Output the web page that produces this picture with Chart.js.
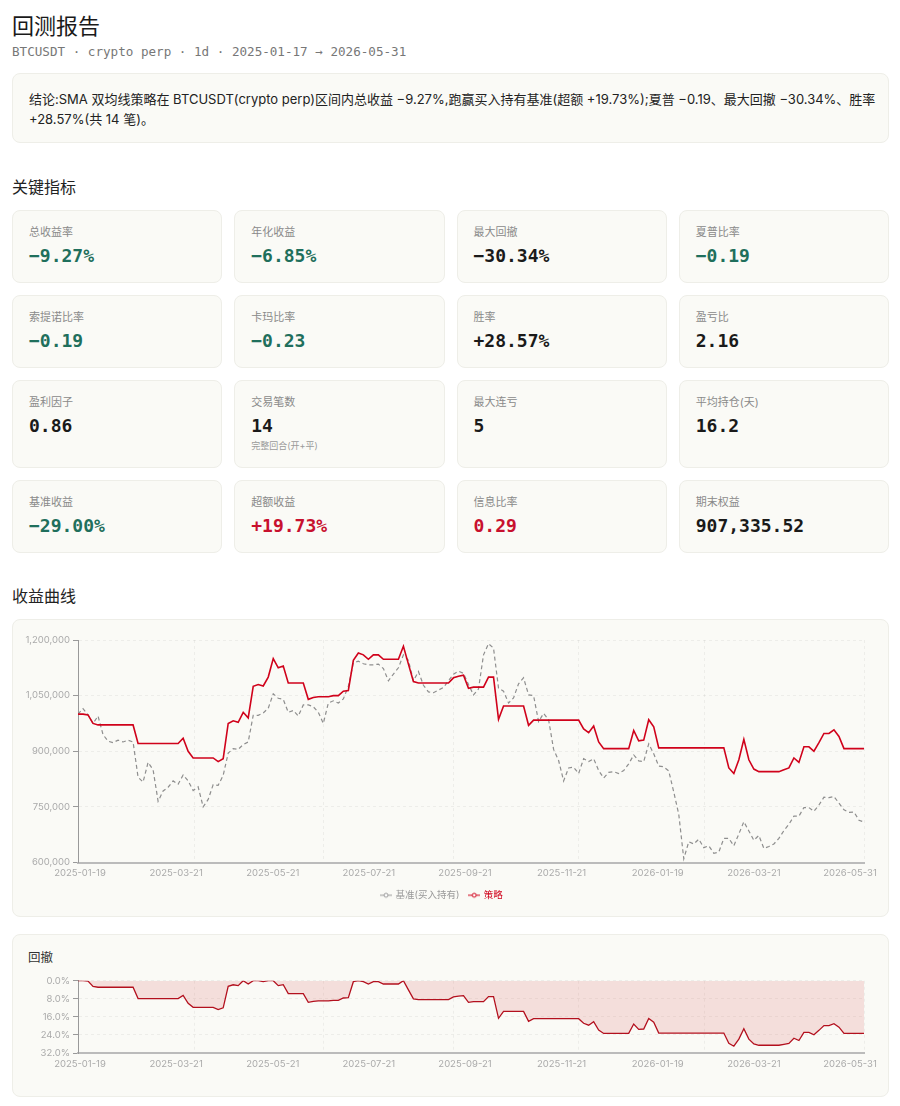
<!DOCTYPE html>
<html lang="zh-CN">
<head>
<meta charset="utf-8">
<title>回测报告</title>
<script src="https://cdn.jsdelivr.net/npm/chart.js@4.4.1/dist/chart.umd.min.js"></script>
<style>
  html, body { margin: 0; padding: 0; background: #fff; }
  body { width: 900px; height: 1106px; position: relative; overflow: hidden;
         font-family: Inter, "Noto Sans CJK SC", sans-serif; color: #1a1a1a; }
  .abs { position: absolute; }
  .card { position: absolute; background: #fafaf6; border: 1px solid #eeeee8; border-radius: 8px; box-sizing: border-box; }
  h1 { position: absolute; left: 12px; top: 9px; margin: 0; font: 400 22px/30px "Noto Sans CJK SC", sans-serif; color: #1a1a1a; }
  h2 { position: absolute; left: 12px; margin: 0; font: 400 16px/22px "Noto Sans CJK SC", sans-serif; color: #222; }
  .sub { left: 12px; top: 43px; font: 12.6px/18px "DejaVu Sans Mono", monospace; color: #777; }
  .concl { left: 12px; top: 73px; width: 877px; height: 70px; padding: 15px 16px; font-size: 13px; line-height: 20px; color: #222; white-space: nowrap; }
  .grid { position: absolute; left: 12px; top: 210px; width: 877px; display: grid;
          grid-template-columns: repeat(4, 1fr); grid-template-rows: 73px 73px 88px 73px; gap: 12px; }
  .m { position: relative; background: #fafaf6; border: 1px solid #eeeee8; border-radius: 8px; box-sizing: border-box; padding: 14px 16px 0; }
  .m .l { font-size: 11px; line-height: 14px; color: #8a8a8a; }
  .m .v { margin-top: 7px; font: 700 18px/20px "DejaVu Sans Mono", monospace; color: #1a1a1a; }
  .m .n { margin-top: 4px; font-size: 9px; line-height: 12px; color: #9a9a9a; }
  .g { color: #1f6f5c !important; }
  .r { color: #c8102e !important; }
  .ddt { left: 28px; top: 949px; font: 400 12.5px/16px "Noto Sans CJK SC", sans-serif; color: #333; }
</style>
</head>
<body>
<h1>回测报告</h1>
<div class="abs sub">BTCUSDT · crypto perp · 1d · 2025-01-17 → 2026-05-31</div>
<div class="card concl">结论:SMA 双均线策略在 BTCUSDT(crypto perp)区间内总收益 −9.27%,跑赢买入持有基准(超额 +19.73%);夏普 −0.19、最大回撤 −30.34%、胜率<br>+28.57%(共 14 笔)。</div>

<h2 style="top:175px">关键指标</h2>
<div class="grid">
  <div class="m"><div class="l">总收益率</div><div class="v g">−9.27%</div></div>
  <div class="m"><div class="l">年化收益</div><div class="v g">−6.85%</div></div>
  <div class="m"><div class="l">最大回撤</div><div class="v">−30.34%</div></div>
  <div class="m"><div class="l">夏普比率</div><div class="v g">−0.19</div></div>
  <div class="m"><div class="l">索提诺比率</div><div class="v g">−0.19</div></div>
  <div class="m"><div class="l">卡玛比率</div><div class="v g">−0.23</div></div>
  <div class="m"><div class="l">胜率</div><div class="v">+28.57%</div></div>
  <div class="m"><div class="l">盈亏比</div><div class="v">2.16</div></div>
  <div class="m"><div class="l">盈利因子</div><div class="v">0.86</div></div>
  <div class="m"><div class="l">交易笔数</div><div class="v">14</div><div class="n">完整回合(开+平)</div></div>
  <div class="m"><div class="l">最大连亏</div><div class="v">5</div></div>
  <div class="m"><div class="l">平均持仓(天)</div><div class="v">16.2</div></div>
  <div class="m"><div class="l">基准收益</div><div class="v g">−29.00%</div></div>
  <div class="m"><div class="l">超额收益</div><div class="v r">+19.73%</div></div>
  <div class="m"><div class="l">信息比率</div><div class="v r">0.29</div></div>
  <div class="m"><div class="l">期末权益</div><div class="v">907,335.52</div></div>
</div>

<h2 style="top:584px">收益曲线</h2>
<div class="card" style="left:12px;top:619px;width:877px;height:298px"></div>
<div class="abs" style="left:20px;top:628px;width:860px;height:282px"><canvas id="equity"></canvas></div>

<div class="card" style="left:12px;top:934px;width:877px;height:163px"></div>
<div class="abs ddt">回撤</div>
<div class="abs" style="left:20px;top:972px;width:860px;height:98px"><canvas id="dd"></canvas></div>

<script>
// 权益曲线(单位:千),按等间隔采样读取
var strategyK = [
  1000, 1000, 998, 975, 971, 971, 971, 971, 971, 971,
  971, 971, 921, 921, 921, 921, 921, 921, 921, 921,
  921, 935, 900, 882, 882, 882, 882, 882, 872, 880,
  975, 982, 978, 1005, 990, 1075, 1080, 1076, 1100, 1150,
  1125, 1130, 1084, 1084, 1084, 1084, 1040, 1045, 1047, 1047,
  1047, 1050, 1050, 1062, 1064, 1145, 1165, 1160, 1148, 1160,
  1160, 1148, 1148, 1148, 1148, 1183, 1135, 1088, 1084, 1084,
  1084, 1084, 1084, 1084, 1084, 1098, 1102, 1105, 1070, 1073,
  1073, 1073, 1100, 1100, 986, 1022, 1022, 1022, 1022, 1022,
  970, 984, 984, 984, 984, 984, 984, 984, 984, 984,
  984, 960, 950, 968, 925, 907, 907, 907, 907, 907,
  907, 956, 928, 930, 985, 966, 909, 909, 909, 909,
  909, 909, 909, 909, 909, 909, 909, 909, 909, 909,
  855, 840, 877, 932, 877, 852, 845, 845, 845, 845,
  845, 850, 855, 882, 870, 912, 912, 900, 923, 948,
  948, 958, 940, 907, 907, 907, 907, 907
];
var benchmarkK = [
  1000, 1015, 998, 975, 995, 945, 927, 923, 930, 925,
  930, 925, 830, 817, 870, 850, 765, 793, 803, 820,
  811, 836, 820, 794, 804, 750, 770, 810, 808, 835,
  895, 907, 905, 918, 925, 997, 997, 1003, 1016, 1055,
  1043, 1040, 1005, 1010, 995, 1025, 1025, 1020, 1005, 975,
  1030, 1036, 1030, 1041, 1075, 1138, 1143, 1136, 1133, 1133,
  1135, 1123, 1090, 1108, 1125, 1160, 1145, 1090, 1115, 1078,
  1060, 1058, 1065, 1072, 1090, 1108, 1116, 1110, 1080, 1052,
  1068, 1160, 1190, 1178, 1070, 1062, 1030, 1044, 1082, 1098,
  1052, 1050, 980, 1002, 985, 905, 875, 820, 855, 857,
  840, 880, 872, 880, 848, 828, 843, 845, 840, 848,
  866, 890, 874, 872, 920, 893, 860, 858, 847, 790,
  730, 610, 656, 650, 663, 640, 645, 625, 628, 665,
  665, 645, 677, 710, 685, 660, 673, 638, 643, 650,
  665, 686, 703, 725, 725, 748, 748, 738, 755, 776,
  775, 778, 760, 742, 735, 736, 714, 709
];
// 日期刻度及其所在的采样序号
var tickLabels = ['2025-01-19', '2025-03-21', '2025-05-21', '2025-07-21', '2025-09-21',
                  '2025-11-21', '2026-01-19', '2026-03-21', '2026-05-31'];
var tickAt = [0.4, 19.6, 38.9, 58.1, 77.3, 96.6, 115.8, 135.0, 154.2];
var gridAt = [23.2, 49, 75, 100, 125.2, 157];

// 回撤 = 相对历史最高权益的跌幅(%)
var peak = 0;
var drawdown = strategyK.map(function (v) {
  peak = Math.max(peak, v);
  return (1 - v / peak) * 100;
});

Chart.defaults.font.family = 'Inter, "Noto Sans CJK SC", sans-serif';
Chart.defaults.animation = false;

var GRID = 'rgba(0,0,0,0.05)';

function xAxis(h) {
  return {
    type: 'linear', min: 0, max: strategyK.length - 1,
    afterBuildTicks: function (s) {
      s.ticks = tickAt.concat(gridAt).sort(function (a, b) { return a - b; })
        .map(function (v) { return { value: v }; });
    },
    afterFit: function (s) { s.height = h; },
    ticks: {
      autoSkip: false, maxRotation: 0, padding: 5, color: '#aaa', font: { size: 9.5 },
      callback: function (v) { var k = tickAt.indexOf(v); return k < 0 ? '' : tickLabels[k]; }
    },
    grid: {
      drawTicks: false,
      color: function (c) {
        return c.tick && gridAt.indexOf(c.tick.value) >= 0 ? GRID : 'rgba(0,0,0,0)';
      }
    },
    border: { color: '#bbb', width: 2, dash: [3, 3] }
  };
}

function yAxis(opts) {
  return Object.assign({
    afterFit: function (s) { s.width = 58; },
    grid: { color: GRID, tickLength: 5, tickColor: '#999' },
    border: { color: '#999', width: 1, dash: [3, 3] }
  }, opts);
}

function legendIcon(color) {
  var c = document.createElement('canvas');
  c.width = 12; c.height = 8;
  var g = c.getContext('2d');
  g.strokeStyle = color; g.lineWidth = 1;
  g.beginPath(); g.moveTo(0, 4); g.lineTo(12, 4); g.stroke();
  g.beginPath(); g.arc(6, 4, 2, 0, Math.PI * 2);
  g.fillStyle = '#fff'; g.fill(); g.stroke();
  return c;
}

var equityChart = new Chart(document.getElementById('equity'), {
  type: 'line',
  data: {
    datasets: [{
      label: '基准(买入持有)',
      data: benchmarkK.map(function (v, i) { return { x: i, y: v * 1000 }; }),
      borderColor: '#8e8e8e', borderWidth: 1.2, borderDash: [4, 3],
      pointRadius: 0, order: 1
    }, {
      label: '策略',
      data: strategyK.map(function (v, i) { return { x: i, y: v * 1000 }; }),
      borderColor: '#d0021b', borderWidth: 1.6,
      pointRadius: 0, order: 0
    }]
  },
  options: {
    responsive: true, maintainAspectRatio: false,
    layout: { padding: { top: 12, right: 16, left: 0, bottom: 0 } },
    plugins: {
      tooltip: { enabled: false },
      legend: {
        position: 'bottom',
        labels: {
          usePointStyle: true, padding: 10, font: { size: 9.5 },
          generateLabels: function () {
            return [
              { text: '基准(买入持有)', fontColor: '#999', pointStyle: legendIcon('#999'), datasetIndex: 0, hidden: false, lineWidth: 0 },
              { text: '策略', fontColor: '#d0021b', pointStyle: legendIcon('#d0021b'), datasetIndex: 1, hidden: false, lineWidth: 0 }
            ];
          }
        }
      }
    },
    scales: {
      x: xAxis(18),
      y: yAxis({
        min: 600000, max: 1200000,
        ticks: { stepSize: 150000, padding: 3, color: '#aaa', font: { size: 9.5 },
                 callback: function (v) { return v.toLocaleString('en-US'); } }
      })
    }
  }
});

var ddChart = new Chart(document.getElementById('dd'), {
  type: 'line',
  data: {
    datasets: [{
      label: '回撤',
      data: drawdown.map(function (v, i) { return { x: i, y: v }; }),
      borderColor: '#b3101e', borderWidth: 1.3,
      backgroundColor: 'rgba(210,60,60,0.14)', fill: 'origin',
      pointRadius: 0
    }]
  },
  options: {
    responsive: true, maintainAspectRatio: false,
    layout: { padding: { top: 8, right: 16, left: 0, bottom: 0 } },
    plugins: { tooltip: { enabled: false }, legend: { display: false } },
    scales: {
      x: xAxis(17),
      y: yAxis({
        reverse: true, min: 0, max: 32,
        ticks: { stepSize: 8, padding: 3, color: '#aaa', font: { size: 9.5 },
                 callback: function (v) { return v.toFixed(1) + '%'; } }
      })
    }
  }
});
</script>
</body>
</html>
